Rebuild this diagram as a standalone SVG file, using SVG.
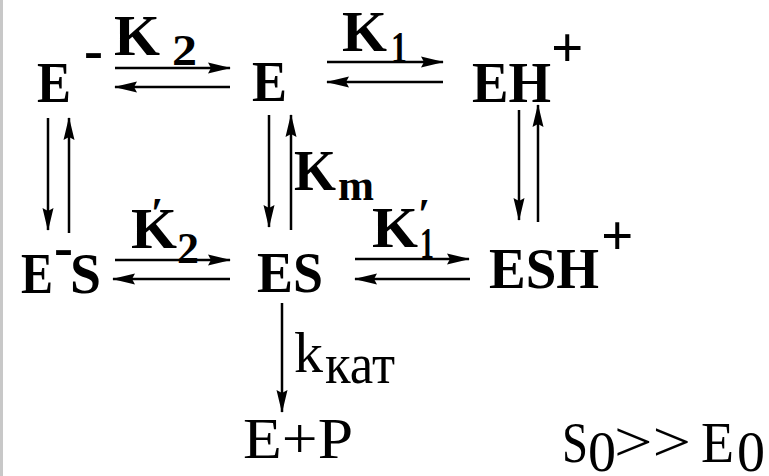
<svg xmlns="http://www.w3.org/2000/svg" width="769" height="476" viewBox="0 0 769 476">
<style>
text{font-family:"Liberation Serif","DejaVu Serif","Noto Serif",Tinos,FreeSerif,"Times New Roman",Times,serif;fill:#000}
.sp{font-weight:bold;font-size:57px}
.k{font-weight:bold;font-size:58px}
.sub{font-weight:bold;font-size:44px}
.rg{font-size:56px}
.ar{stroke:#000;stroke-width:2.5;fill:none;marker-end:url(#ah)}
</style>
<defs>
<marker id="ah" markerUnits="userSpaceOnUse" markerWidth="24" markerHeight="12" refX="22" refY="6" orient="auto">
<path d="M0,0.5 L23,6 L0,11.5 L3,6 z" fill="#000"/>
</marker>
</defs>
<rect x="0" y="0" width="769" height="476" fill="#fff"/>
<rect x="0" y="0" width="3" height="476" fill="#c8c8c8"/>
<g id="connectors">
<line class="ar" x1="115" y1="68" x2="230" y2="68"/>
<line class="ar" x1="230" y1="87" x2="115" y2="87"/>
<line class="ar" x1="327" y1="62" x2="443" y2="62"/>
<line class="ar" x1="443" y1="82" x2="327" y2="82"/>
<line class="ar" x1="115" y1="260" x2="230" y2="260"/>
<line class="ar" x1="230" y1="279" x2="113" y2="279"/>
<line class="ar" x1="355" y1="259" x2="469" y2="259"/>
<line class="ar" x1="470" y1="279" x2="355" y2="279"/>
<line class="ar" x1="48" y1="118" x2="48" y2="230"/>
<line class="ar" x1="69" y1="233" x2="69" y2="118"/>
<line class="ar" x1="269" y1="115" x2="269" y2="227"/>
<line class="ar" x1="291" y1="230" x2="291" y2="115"/>
<line class="ar" x1="519" y1="110" x2="519" y2="220"/>
<line class="ar" x1="538" y1="222" x2="538" y2="105"/>
<line class="ar" x1="282" y1="303" x2="282" y2="412"/>
</g>
<g id="labels">
<text class="k" x="114" y="55" textLength="46" lengthAdjust="spacingAndGlyphs">K</text><text class="sub" x="172" y="65" textLength="25" lengthAdjust="spacingAndGlyphs">2</text>
<text class="k" x="342" y="51" textLength="45" lengthAdjust="spacingAndGlyphs">K</text><text class="sub" x="391" y="62" textLength="16" lengthAdjust="spacingAndGlyphs">1</text>
<text class="k" x="294" y="190" textLength="42" lengthAdjust="spacingAndGlyphs">K</text><text class="sub" x="338" y="200" textLength="36" lengthAdjust="spacingAndGlyphs">m</text>
<text class="k" x="131" y="248" textLength="46" lengthAdjust="spacingAndGlyphs">K</text><text class="sub" x="151" y="228" font-size="30">′</text><text class="sub" x="177" y="263" textLength="22" lengthAdjust="spacingAndGlyphs">2</text>
<text class="k" x="372" y="247" textLength="46" lengthAdjust="spacingAndGlyphs">K</text><text class="sub" x="418" y="229" font-size="30">′</text><text class="sub" x="420" y="258" textLength="14" lengthAdjust="spacingAndGlyphs">1</text>
<text class="rg" x="294" y="372" font-size="60" textLength="29" lengthAdjust="spacingAndGlyphs">k</text><text class="rg" x="325" y="383" font-size="46" textLength="70" lengthAdjust="spacingAndGlyphs">кат</text>
</g>
<g id="node-Eminus">
<text class="sp" x="37" y="102" textLength="34" lengthAdjust="spacingAndGlyphs">E</text><text class="sp" x="84" y="69" font-size="22">-</text>
</g>
<g id="node-E">
<text class="sp" x="252" y="101" textLength="35" lengthAdjust="spacingAndGlyphs">E</text>
</g>
<g id="node-EH">
<text class="sp" x="472" y="102" textLength="79" lengthAdjust="spacingAndGlyphs">EH</text><text class="sp" x="551" y="67" font-size="50">+</text>
</g>
<g id="node-EminusS">
<text class="sp" x="21" y="293" textLength="32" lengthAdjust="spacingAndGlyphs">E</text><text class="sp" x="54" y="266" font-size="20">-</text><text class="sp" x="70" y="293" textLength="31" lengthAdjust="spacingAndGlyphs">S</text>
</g>
<g id="node-ES">
<text class="sp" x="257" y="292" textLength="66" lengthAdjust="spacingAndGlyphs">ES</text>
</g>
<g id="node-ESH">
<text class="sp" x="489" y="288" textLength="110" lengthAdjust="spacingAndGlyphs">ESH</text><text class="sp" x="601" y="255" font-size="50">+</text>
</g>
<g id="node-EP">
<text class="rg" x="243" y="458" textLength="110" lengthAdjust="spacingAndGlyphs">E+P</text>
</g>
<g id="cond">
<text class="rg" x="562" y="462" textLength="26" lengthAdjust="spacingAndGlyphs">S</text><text class="rg" x="588" y="471" font-size="30">0</text>
<text class="rg" x="614" y="461" textLength="77" lengthAdjust="spacingAndGlyphs">&gt;&gt;</text>
<text class="rg" x="701" y="462" textLength="33" lengthAdjust="spacingAndGlyphs">E</text><text class="rg" x="737" y="471" font-size="30">0</text>
</g>
</svg>
